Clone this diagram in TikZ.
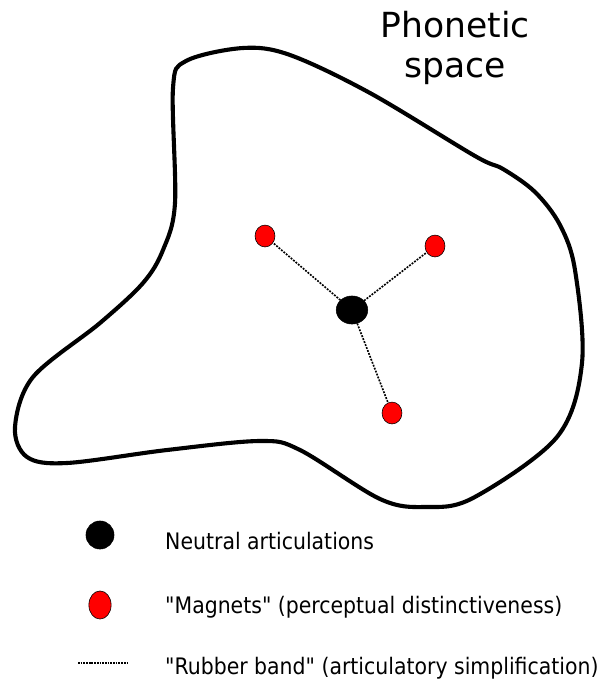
\documentclass[tikz,border=0pt]{standalone}
\usepackage{fontspec}
\setmainfont{DejaVu Sans}
\newfontfamily\legendfont{DejaVu Sans Condensed}
\usetikzlibrary{positioning,shapes.geometric}

\tikzset{
  neutral/.style={ellipse, fill=black, draw=black, inner sep=0pt},
  magnet/.style={ellipse, fill=red, draw=black, line width=0.5pt, inner sep=0pt,
    minimum width=17pt, minimum height=18.7pt},
  rubber/.style={line width=1.4pt, dash pattern=on 1.6pt off 1.1pt},
  legendtext/.style={anchor=west, font=\legendfont\fontsize{19.4}{22}\selectfont, inner sep=0pt},
}

\begin{document}
\begin{tikzpicture}[x=0.03cm,y=-0.03cm]
\useasboundingbox (0,0) rectangle (597,691);
% phonetic space outline
\draw[line width=3.5pt, line join=round] plot[smooth cycle, tension=0.55] coordinates {
  (300,450) (380,499) (425,507) (473,498) (557,437) (582,363) (575,270) (560,225)
  (535,192) (503,169) (475,156) (370,93) (290,55) (243,48) (186,61) (173,88)
  (175,203) (163,250) (143,283) (100,323) (33,377) (15,427) (27,457) (67,463)
  (167,450) (260,441)};
\node[align=center, font=\fontsize{29.5}{34}\selectfont] (title) at (455,48) {Phonetic\\space};

% neutral articulation and magnets
\node[neutral, minimum width=27pt, minimum height=24pt] (center) at (352,310) {};
\node[magnet] (mag1) at (265,236) {};
\node[magnet] (mag2) at (435,246) {};
\node[magnet] (mag3) at (392,413) {};
\draw[rubber] (center) -- (mag1);
\draw[rubber] (center) -- (mag2);
\draw[rubber] (center) -- (mag3);

% legend
\node[neutral, minimum width=24pt, minimum height=24pt] (keyneutral) at (100,535) {};
\node[legendtext] (txtneutral) at (165,541) {Neutral articulations};
\node[magnet, minimum width=19pt, minimum height=24pt] (keymagnet) at (100,605) {};
\node[legendtext] (txtmagnet) at (165,607) {"Magnets" (perceptual distinctiveness)};
\coordinate (bandA) at (78,663);
\coordinate (bandB) at (127,663);
\draw[line width=0.9pt, dash pattern=on 1.5pt off 0.8pt] (bandA) -- (bandB);
\node[legendtext] (txtband) at (165,668) {"Rubber band" (articulatory simplification)};
\end{tikzpicture}
\end{document}
